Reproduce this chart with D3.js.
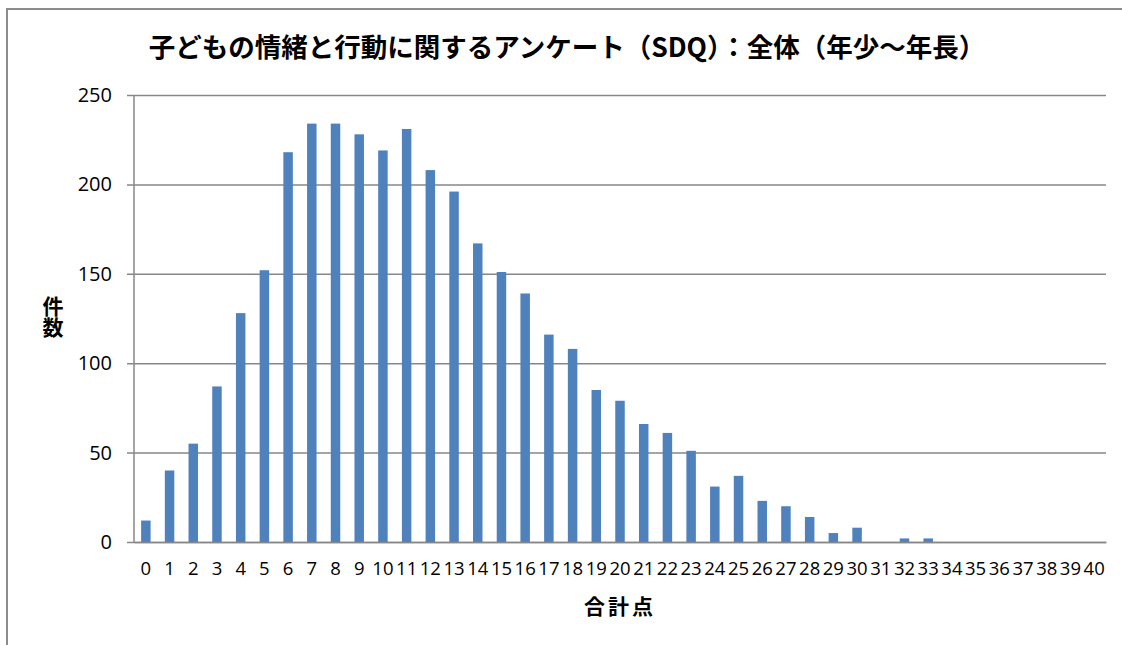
<!doctype html>
<html lang="ja">
<head>
  <meta charset="utf-8">
  <title>SDQ 全体</title>
  <script src="https://d3js.org/d3.v7.min.js"></script>
  <style>
    body {
      margin: 0px;
      background: #fff;
    }
    svg {
      display: block;
    }
  </style>
</head>
<body>
    <div id="container"></div>

    <script>
        // data
        var scores = ["0","1","2","3","4","5","6","7","8","9","10",
                      "11","12","13","14","15","16","17","18","19","20",
                      "21","22","23","24","25","26","27","28","29","30",
                      "31","32","33","34","35","36","37","38","39","40"];
        var counts = [12, 40, 55, 87, 128, 152, 218, 234, 234, 228, 219,
                      231, 208, 196, 167, 151, 139, 116, 108, 85, 79,
                      66, 61, 51, 31, 37, 23, 20, 14, 5, 8,
                      0, 2, 2, 0, 0, 0, 0, 0, 0, 0];
        var yTicks = [0, 50, 100, 150, 200, 250];

        var titleText = "子どもの情緒と行動に関するアンケート（SDQ）：全体（年少～年長）";
        var yTitle = "件数";
        var xTitle = "合計点";

        var width = 1122, height = 645;
        var margin = { top: 95, right: 15, bottom: 103, left: 134 };

        var svg = d3.select('div#container').append('svg')
            .attr('width', width)
            .attr('height', height);

        // outer chart frame (only top and left edges are visible)
        svg.append("rect")
            .attr("x", 7).attr("y", 9)
            .attr("width", width + 20).attr("height", height + 20)
            .attr("fill", "none")
            .attr("stroke", "#8c8c8c")
            .attr("stroke-width", 2);

        var x = d3.scaleBand()
            .domain(scores)
            .range([margin.left, width - margin.right - 1])
            .paddingInner(0.6)
            .paddingOuter(0.3);

        var y = d3.scaleLinear()
            .domain([0, 250])
            .range([height - margin.bottom, margin.top]);

        // gridlines + y axis
        var yAxis = d3.axisLeft(y)
            .tickValues(yTicks)
            .tickSize(-(width - margin.right - 1 - margin.left))
            .tickPadding(22);

        var gy = svg.append("g")
            .attr("transform", "translate(" + margin.left + ",0)")
            .call(yAxis);
        gy.select(".domain").remove();
        gy.selectAll(".tick line")
            .attr("x1", -7)
            .attr("stroke", "#878787")
            .attr("stroke-width", 1.5);
        gy.selectAll(".tick text")
            .attr("fill", "#000")
            .style("font-family", "'Open Sans', sans-serif")
            .style("font-size", "20px");

        // left axis line
        svg.append("line")
            .attr("x1", margin.left).attr("x2", margin.left)
            .attr("y1", y(250)).attr("y2", y(0))
            .attr("stroke", "#878787")
            .attr("stroke-width", 1.5);

        // bars
        svg.append("g")
            .selectAll("rect")
            .data(counts)
            .enter()
            .append("rect")
                .attr("x", function(d, i) { return x(scores[i]); })
                .attr("width", x.bandwidth())
                .attr("y", function(d) { return y(d); })
                .attr("height", function(d) { return y(0) - y(d); })
                .attr("fill", "#4f81bd");

        // x axis
        var gx = svg.append("g")
            .attr("transform", "translate(0," + y(0) + ")")
            .call(d3.axisBottom(x).tickSize(0).tickPadding(20));
        gx.select(".domain")
            .attr("stroke", "#878787")
            .attr("stroke-width", 1.5);
        gx.selectAll(".tick text")
            .attr("fill", "#000")
            .style("font-family", "'Open Sans', sans-serif")
            .style("font-size", "18.5px");

        // titles
        svg.append("text")
            .attr("x", 567)
            .attr("y", 57)
            .attr("text-anchor", "middle")
            .style("font-family", "'Noto Sans CJK JP', sans-serif")
            .style("font-weight", "bold")
            .style("font-size", "26.5px")
            .text(titleText);

        // vertical y title, one text element
        svg.append("text")
            .attr("x", 53)
            .attr("y", 296)
            .style("writing-mode", "vertical-rl")
            .style("font-family", "'Noto Sans CJK JP', sans-serif")
            .style("font-weight", "bold")
            .style("font-size", "21px")
            .text(yTitle);

        svg.append("text")
            .attr("x", 620)
            .attr("y", 614)
            .attr("text-anchor", "middle")
            .style("font-family", "'Noto Sans CJK JP', sans-serif")
            .style("font-weight", "bold")
            .style("font-size", "21px")
            .style("letter-spacing", "3px")
            .text(xTitle);
    </script>
</body>
</html>
